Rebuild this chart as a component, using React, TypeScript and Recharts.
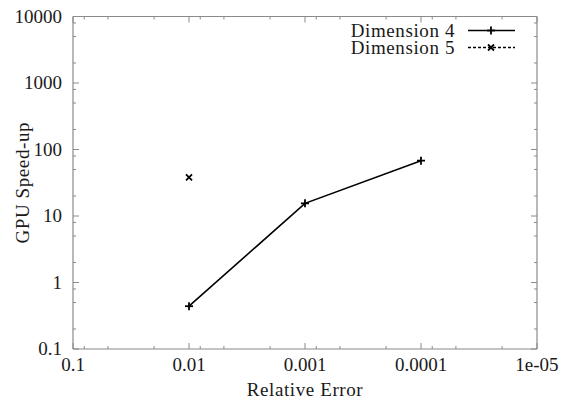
import React from 'react';
import { LineChart, Line, XAxis, YAxis, Legend } from 'recharts';

// axis ticks (values and their printed labels)
const errorTicks = [0.1, 0.01, 0.001, 0.0001, 0.00001];
const errorTickLabels = ['0.1', '0.01', '0.001', '0.0001', '1e-05'];
const speedTicks = [0.1, 1, 10, 100, 1000, 10000];
const speedTickLabels = ['0.1', '1', '10', '100', '1000', '10000'];
const minorFactors = [0.8, 0.5, 0.2];

// series
const dim4Error = [0.01, 0.001, 0.0001];
const dim4Speedup = [0.44, 15.5, 68];
const dim5Error = [0.01];
const dim5Speedup = [38];

const dim4 = dim4Error.map((x, i) => ({ x, y: dim4Speedup[i] }));
const dim5 = dim5Error.map((x, i) => ({ x, y: dim5Speedup[i] }));

const withMinors = (majors: number[]) => {
    const out = [...majors];
    majors.forEach((m) => {
        if (m === Math.min(...majors)) return;
        minorFactors.forEach((f) => out.push(m * f));
    });
    return out;
};

const xTicks = withMinors(errorTicks);
const yTicks = withMinors(speedTicks);

const majorIndex = (majors: number[], v: number) =>
    majors.findIndex((m) => Math.abs(m - v) / m < 1e-6);

const FONT = "'Liberation Serif', 'DejaVu Serif', serif";
const FS = 19;
const TEXT = '#1a1a1a';
const FRAME = '#8a8a8a';
const textStyle = { fontFamily: FONT, fontSize: FS };
const wordStyle = { fontFamily: FONT, fontSize: FS, letterSpacing: 0.6 };

const BottomTick = (props: any) => {
    const { x, y, payload } = props;
    const i = majorIndex(errorTicks, payload.value);
    const len = i >= 0 ? 6 : 3;
    return (
        <g>
            <line x1={x} x2={x} y1={y} y2={y - len} stroke={FRAME} strokeWidth={1} />
            {i >= 0 && (
                <text x={x} y={y + 22} textAnchor="middle" style={textStyle} fill={TEXT}>
                    {errorTickLabels[i]}
                </text>
            )}
        </g>
    );
};

const TopTick = (props: any) => {
    const { x, y, payload } = props;
    const len = majorIndex(errorTicks, payload.value) >= 0 ? 6 : 3;
    return <line x1={x} x2={x} y1={y} y2={y + len} stroke={FRAME} strokeWidth={1} />;
};

const LeftTick = (props: any) => {
    const { x, y, payload } = props;
    const i = majorIndex(speedTicks, payload.value);
    const len = i >= 0 ? 6 : 3;
    return (
        <g>
            <line x1={x} x2={x + len} y1={y} y2={y} stroke={FRAME} strokeWidth={1} />
            {i >= 0 && (
                <text x={x - 11} y={y + 6} textAnchor="end" style={textStyle} fill={TEXT}>
                    {speedTickLabels[i]}
                </text>
            )}
        </g>
    );
};

const RightTick = (props: any) => {
    const { x, y, payload } = props;
    const len = majorIndex(speedTicks, payload.value) >= 0 ? 6 : 3;
    return <line x1={x} x2={x - len} y1={y} y2={y} stroke={FRAME} strokeWidth={1} />;
};

const Plus = ({ cx, cy }: { cx: number; cy: number }) => (
    <g stroke="#000" strokeWidth={1.8}>
        <line x1={cx - 4} x2={cx + 4} y1={cy} y2={cy} />
        <line x1={cx} x2={cx} y1={cy - 4} y2={cy + 4} />
    </g>
);

const Cross = ({ cx, cy }: { cx: number; cy: number }) => (
    <g stroke="#000" strokeWidth={1.8}>
        <line x1={cx - 3} x2={cx + 3} y1={cy - 3} y2={cy + 3} />
        <line x1={cx - 3} x2={cx + 3} y1={cy + 3} y2={cy - 3} />
    </g>
);

const XLabel = (props: any) => {
    const vb = props.viewBox || { x: 0, y: 0, width: 0, height: 0 };
    return (
        <text x={vb.x + vb.width / 2} y={vb.y + vb.height - 7} textAnchor="middle" style={wordStyle} fill={TEXT}>
            Relative Error
        </text>
    );
};

const YLabel = (props: any) => {
    const vb = props.viewBox || { x: 0, y: 0, height: 0 };
    const cy = vb.y + vb.height / 2;
    return (
        <text
            x={22}
            y={cy}
            transform={`rotate(-90 22 ${cy})`}
            textAnchor="middle"
            dominantBaseline="central"
            style={wordStyle}
            fill={TEXT}
        >
            GPU Speed-up
        </text>
    );
};

const LegendBox = (props: any) => {
    const payload = props.payload || [];
    return (
        <svg width={571} height={60} style={{ display: 'block' }}>
            {payload.map((p: any, i: number) => {
                const cy = 30.5 + i * 17;
                const dash = p.payload?.strokeDasharray;
                return (
                    <g key={p.value}>
                        <text x={455} y={cy + 6} textAnchor="end" style={wordStyle} fill={TEXT}>
                            {p.value}
                        </text>
                        <line x1={468} x2={515} y1={cy} y2={cy} stroke="#000" strokeWidth={1.6} strokeDasharray={dash} />
                        {i === 0 ? <Plus cx={491} cy={cy} /> : <Cross cx={491} cy={cy} />}
                    </g>
                );
            })}
        </svg>
    );
};

export default function App() {
    return (
        <div style={{ position: 'absolute', left: 0, top: 0, background: '#fff' }}>
            <LineChart width={571} height={403} margin={{ top: 0, right: 0, bottom: 0, left: 0 }}>
                <XAxis
                    xAxisId="b"
                    dataKey="x"
                    type="number"
                    scale="log"
                    domain={[0.00001, 0.1]}
                    reversed
                    allowDataOverflow
                    ticks={xTicks}
                    interval={0}
                    tickSize={0}
                    tickMargin={0}
                    tick={<BottomTick />}
                    tickLine={false}
                    axisLine={{ stroke: FRAME, strokeWidth: 1.2 }}
                    height={54}
                    label={<XLabel />}
                />
                <XAxis
                    xAxisId="t"
                    orientation="top"
                    dataKey="x"
                    type="number"
                    scale="log"
                    domain={[0.00001, 0.1]}
                    reversed
                    allowDataOverflow
                    ticks={xTicks}
                    interval={0}
                    tickSize={0}
                    tickMargin={0}
                    tick={<TopTick />}
                    tickLine={false}
                    axisLine={{ stroke: FRAME, strokeWidth: 1.2 }}
                    height={16.5}
                />
                <YAxis
                    yAxisId="l"
                    dataKey="y"
                    type="number"
                    scale="log"
                    domain={[0.1, 10000]}
                    allowDataOverflow
                    ticks={yTicks}
                    interval={0}
                    tickSize={0}
                    tickMargin={0}
                    tick={<LeftTick />}
                    tickLine={false}
                    axisLine={{ stroke: FRAME, strokeWidth: 1.2 }}
                    width={73}
                    label={<YLabel />}
                />
                <YAxis
                    yAxisId="r"
                    orientation="right"
                    dataKey="y"
                    type="number"
                    scale="log"
                    domain={[0.1, 10000]}
                    allowDataOverflow
                    ticks={yTicks}
                    interval={0}
                    tickSize={0}
                    tickMargin={0}
                    tick={<RightTick />}
                    tickLine={false}
                    axisLine={{ stroke: FRAME, strokeWidth: 1.2 }}
                    width={34}
                />
                <Legend
                    layout="horizontal"
                    verticalAlign="middle"
                    align="center"
                    content={<LegendBox />}
                    wrapperStyle={{ position: 'absolute', left: 0, top: 0, width: 571, height: 60 }}
                />
                <Line
                    name="Dimension 4"
                    data={dim4}
                    dataKey="y"
                    xAxisId="b"
                    yAxisId="l"
                    stroke="#000"
                    strokeWidth={1.6}
                    dot={(p: any) => <Plus key={`d4-${p.index}`} cx={p.cx} cy={p.cy} />}
                    activeDot={false}
                    isAnimationActive={false}
                />
                <Line
                    name="Dimension 5"
                    data={dim5}
                    dataKey="y"
                    xAxisId="b"
                    yAxisId="l"
                    stroke="#000"
                    strokeWidth={1.6}
                    strokeDasharray="3 2"
                    dot={(p: any) => <Cross key={`d5-${p.index}`} cx={p.cx} cy={p.cy} />}
                    activeDot={false}
                    isAnimationActive={false}
                />
            </LineChart>
        </div>
    );
}
